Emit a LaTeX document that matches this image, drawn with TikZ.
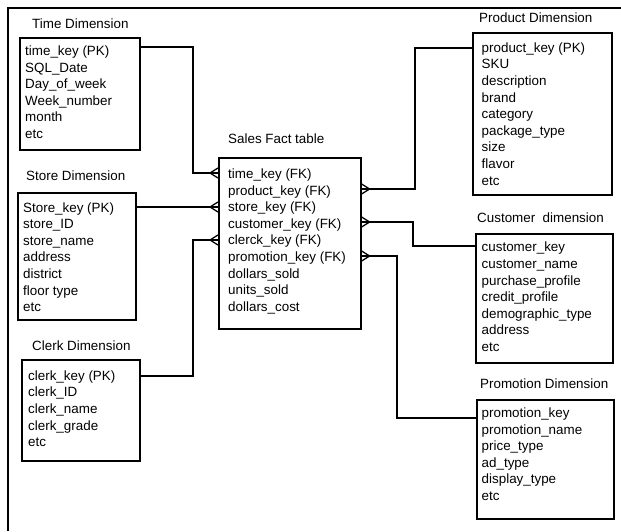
\documentclass[tikz,border=0pt]{standalone}
\usepackage{fontspec}
\setmainfont{Liberation Sans}
\usetikzlibrary{calc}
\begin{document}
\begin{tikzpicture}[x=1pt,y=-1pt,
  every node/.style={font=\fontsize{13.4}{16.6}\selectfont},
  box/.style={draw,line width=1.6pt,inner sep=0pt,anchor=north west},
  rows/.style={anchor=north west,align=left,inner sep=0pt},
  title/.style={anchor=base west,inner sep=0pt},
  conn/.style={line width=1.8pt},
  crowl/.pic={\draw[line width=1.3pt] (-8,0) -- (0,-5) (-8,0) -- (0,5);},
  crowr/.pic={\draw[line width=1.3pt] (8,0) -- (0,-5) (8,0) -- (0,5);}]
\useasboundingbox (0,0) rectangle (621,531);
% outer frame (left and top only)
\draw[line width=2.6pt] (8,531) -- (8,8) -- (621,8);

% Time dimension
\node[title] (timet) at (32,28.5) {Time Dimension};
\node[box,minimum width=120pt,minimum height=112pt] (time) at (19,37) {};
\node[rows] (timer) at (25,43.6) {\strut time\_key (PK)\\SQL\_Date\\Day\_of\_week\\Week\_number\\month\\etc};

% Store dimension
\node[title] (storet) at (26,180) {Store Dimension};
\node[box,minimum width=118pt,minimum height=127pt] (store) at (17,192) {};
\node[rows] (storer) at (23,200.3) {\strut Store\_key (PK)\\store\_ID\\store\_name\\address\\district\\floor type\\etc};

% Clerk dimension
\node[title] (clerkt) at (32,350.5) {Clerk Dimension};
\node[box,minimum width=118pt,minimum height=101pt] (clerk) at (21,359) {};
\node[rows] (clerkr) at (28,368.4) {\strut clerk\_key (PK)\\clerk\_ID\\clerk\_name\\clerk\_grade\\etc};

% Fact table
\node[title] (factt) at (228,143.3) {Sales Fact table};
\node[box,minimum width=142pt,minimum height=171pt] (fact) at (218,157) {};
\node[rows] (factr) at (228,166.6) {\strut time\_key (FK)\\product\_key (FK)\\store\_key (FK)\\customer\_key (FK)\\clerck\_key (FK)\\promotion\_key (FK)\\dollars\_sold\\units\_sold\\dollars\_cost};

% Product dimension
\node[title] (prodt) at (479,22.7) {Product Dimension};
\node[box,minimum width=139pt,minimum height=162pt] (prod) at (472,32) {};
\node[rows] (prodr) at (481.5,40.4) {\strut product\_key (PK)\\SKU\\description\\brand\\category\\package\_type\\size\\flavor\\etc};

% Customer dimension
\node[title] (custt) at (477,222.7) {Customer\ \ dimension};
\node[box,minimum width=137pt,minimum height=129pt] (cust) at (475,233) {};
\node[rows] (custr) at (481.5,240) {\strut customer\_key\\customer\_name\\purchase\_profile\\credit\_profile\\demographic\_type\\address\\etc};

% Promotion dimension
\node[title] (promt) at (480,388) {Promotion Dimension};
\node[box,minimum width=137pt,minimum height=119pt] (prom) at (476,399) {};
\node[rows] (promr) at (481.5,405.7) {\strut promotion\_key\\promotion\_name\\price\_type\\ad\_type\\display\_type\\etc};

% connectors
\draw[conn] ($(time.north east)+(0,10)$) -| ($(fact.north west)+(-25,16)$) -- ($(fact.north west)+(0,16)$);
\draw[conn] ($(store.north east)+(0,15)$) -- ($(fact.north west)+(0,50)$);
\draw[conn] ($(clerk.north east)+(0,17)$) -| ($(fact.north west)+(-25,83)$) -- ($(fact.north west)+(0,83)$);
\draw[conn] ($(prod.north west)+(0,16)$) -| ($(fact.north east)+(53,32)$) -- ($(fact.north east)+(0,32)$);
\draw[conn] ($(cust.north west)+(0,13)$) -| ($(fact.north east)+(51,65)$) -- ($(fact.north east)+(0,65)$);
\draw[conn] ($(prom.north west)+(0,19)$) -| ($(fact.north east)+(35,99)$) -- ($(fact.north east)+(0,99)$);

% crow's feet
\pic at ($(fact.north west)+(0,16)$) {crowl};
\pic at ($(fact.north west)+(0,50)$) {crowl};
\pic at ($(fact.north west)+(0,83)$) {crowl};
\pic at ($(fact.north east)+(0,32)$) {crowr};
\pic at ($(fact.north east)+(0,65)$) {crowr};
\pic at ($(fact.north east)+(0,99)$) {crowr};
\end{tikzpicture}
\end{document}
